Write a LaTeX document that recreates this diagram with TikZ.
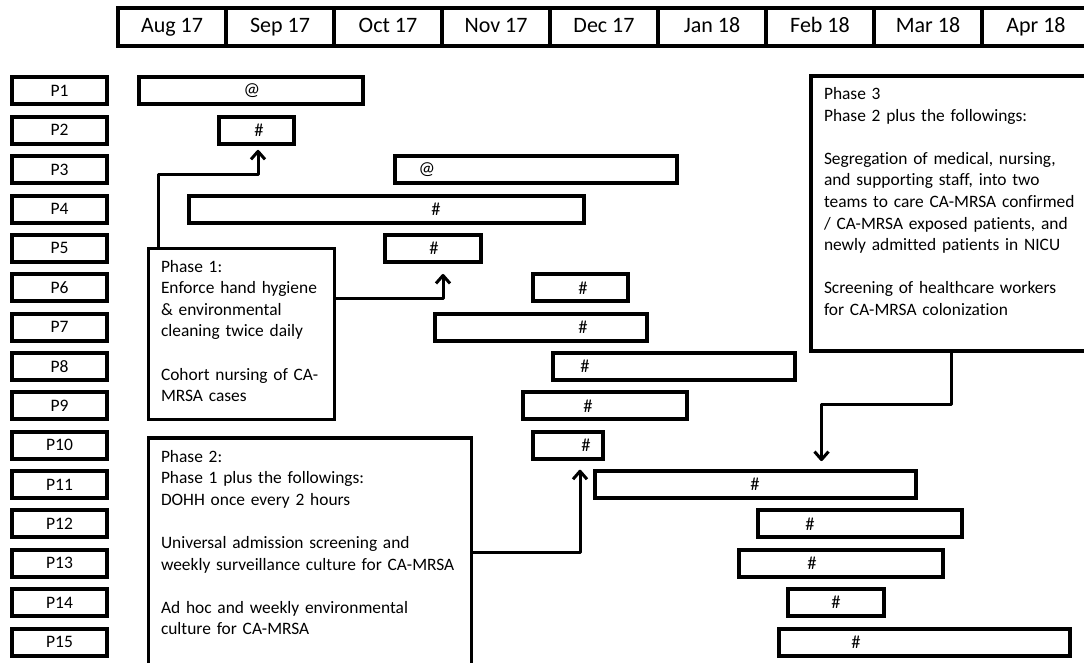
\documentclass[tikz,border=0pt]{standalone}
\usepackage{fontspec}
\setmainfont{Carlito}[Ligatures=NoCommon]
\usetikzlibrary{arrows.meta}
\begin{document}
\begin{tikzpicture}[x=1pt,y=-1pt,
  every node/.style={inner sep=0pt, outer sep=0pt},
  monthbox/.style={draw, line width=3.5pt, minimum width=108pt, minimum height=38pt,
    text height=15pt, text depth=4pt, font=\fontsize{22}{26}\selectfont},
  rowlab/.style={draw, line width=4pt, minimum width=95pt, minimum height=27pt,
    text height=11.5pt, text depth=0.5pt, font=\fontsize{17.5}{21}\selectfont},
  ganttbar/.style={draw, line width=4pt, minimum height=27pt},
  sym/.style={font=\fontsize{18.5}{20}\selectfont},
  pbox/.style={draw, line width=3.5pt},
  ptext/.style={anchor=base west, align=left, text width=320pt,
    font=\fontsize{17.4}{21.6}\selectfont},
  conn/.style={line width=3pt, line join=round,
    -{Straight Barb[length=8pt,width=14pt,line join=round]}}
]
\useasboundingbox (0,0) rectangle (1084,663);

% month header
\foreach \m [count=\k from 0] in {Aug 17,Sep 17,Oct 17,Nov 17,Dec 17,Jan 18,Feb 18,Mar 18,Apr 18}
  \node[monthbox] (m\k) at ({172+108*\k},27) {\m};

% rows: index / left / right / symbol x / symbol
\foreach \i/\l/\r/\t/\s in {
  1/137/365/252/@, 2/217/296/259/\#, 3/393/679/427/@, 4/187/586/436/\#,
  5/383/483/434/\#, 6/531/630/583/\#, 7/433/649/583/\#, 8/551/797/585/\#,
  9/521/689/588/\#, 10/531/605/586/\#, 11/593/918/755/\#, 12/756/964/810/\#,
  13/737/945/812/\#, 14/786/886/836/\#, 15/777/1072/856/\#}
{
  \pgfmathsetmacro\yy{91+(\i-1)*39.36}
  \node[rowlab] (p\i) at (59.5,\yy) {P\i};
  \node[ganttbar, minimum width={\r-\l-4}] (b\i) at ({(\l+\r)/2},\yy) {};
  \node[sym] (s\i) at (\t,\yy) {\s};
}

% phase boxes
\node[pbox, minimum width=186pt, minimum height=171pt] (ph1) at (241.5,334) {};
\node[ptext] (t1) at (161,272) {Phase 1:\\Enforce hand hygiene\\\& environmental\\cleaning twice daily\\[21.6pt]Cohort nursing of CA-\\MRSA cases};

\node[pbox, minimum width=323pt, minimum height=232pt] (ph2) at (310,554) {};
\node[ptext] (t2) at (161,462) {Phase 2:\\Phase 1 plus the followings:\\DOHH once every 2 hours\\[21.6pt]Universal admission screening and\\weekly surveillance culture for CA-MRSA\\[21.6pt]Ad hoc and weekly environmental\\culture for CA-MRSA};

\node[pbox, minimum width=277pt, minimum height=275pt] (ph3) at (949.5,213.5) {};
\node[ptext] (t3) at (824,99.5) {Phase 3\\Phase 2 plus the followings:\\[21.6pt]Segregation of medical, nursing,\\and supporting staff, into two\\teams to care CA-MRSA confirmed\\/ CA-MRSA exposed patients, and\\newly admitted patients in NICU\\[21.6pt]Screening of healthcare workers\\for CA-MRSA colonization};

% connectors
\draw[conn] ([xshift=10pt]ph1.north west) -- ++(0,-74) -| ([xshift=1.5pt,yshift=-6pt]b2.south);
\draw[conn] ([yshift=36pt]ph1.east) -| ([xshift=10pt,yshift=-12pt]b5.south);
\draw[conn] ([yshift=2pt]ph2.east) -| ([xshift=12pt,yshift=-11pt]b10.south);
\draw[conn] ([xshift=1.5pt]ph3.south) -- ++(0,53) -| ([xshift=66pt,yshift=10pt]b11.north);
\end{tikzpicture}
\end{document}
